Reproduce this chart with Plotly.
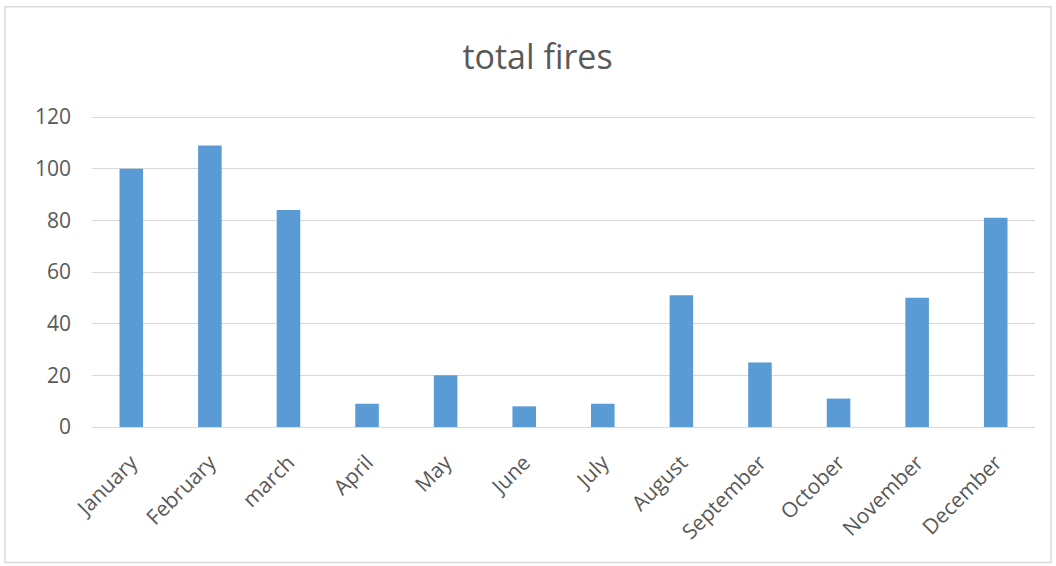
import plotly.graph_objects as go

months = ["January", "February", "march", "April", "May", "June", "July",
          "August", "September", "October", "November", "December"]
fires = [100, 109, 84, 9, 20, 8, 9, 51, 25, 11, 50, 81]
y_ticks = [0, 20, 40, 60, 80, 100, 120]

fig = go.Figure(go.Bar(x=months, y=fires, marker=dict(color="#5b9bd5", line=dict(width=0)), width=0.3))

L, R, T, B = 92, 21, 117, 139
W, H = 1056, 566
pw, ph = W - L - R, H - T - B

def px(x):
    return (x - L) / pw

def py(y):
    return (H - B - y) / ph

fig.update_layout(
    width=W, height=H,
    margin=dict(l=L, r=R, t=T - 1, b=B),
    paper_bgcolor="white", plot_bgcolor="white",
    title=dict(text="total fires", x=537.5 / W, xanchor="center", y=1 - 57 / H, yanchor="middle",
               font=dict(family="Open Sans", size=34, color="#595959")),
    font=dict(family="Open Sans", color="#595959"),
    showlegend=False,
    bargap=0.7,
    xaxis=dict(tickangle=-45, tickfont=dict(size=21, color="#595959"), showgrid=False,
               showline=True, linecolor="#d9d9d9", linewidth=1, ticks="", ticklabelstandoff=14),
    yaxis=dict(range=[0, 120.4], tickvals=y_ticks, tickfont=dict(size=21, color="#595959"),
               showgrid=True, gridcolor="#d9d9d9", gridwidth=1, zeroline=False,
               showline=False, ticks="", ticklabelstandoff=20),
    shapes=[dict(type="rect", xref="paper", yref="paper", x0=px(5), x1=px(1051), y0=py(8), y1=py(562),
                 line=dict(color="#d9d9d9", width=1.5), fillcolor="rgba(0,0,0,0)", layer="below")],
)

fig.write_html("out.html")
